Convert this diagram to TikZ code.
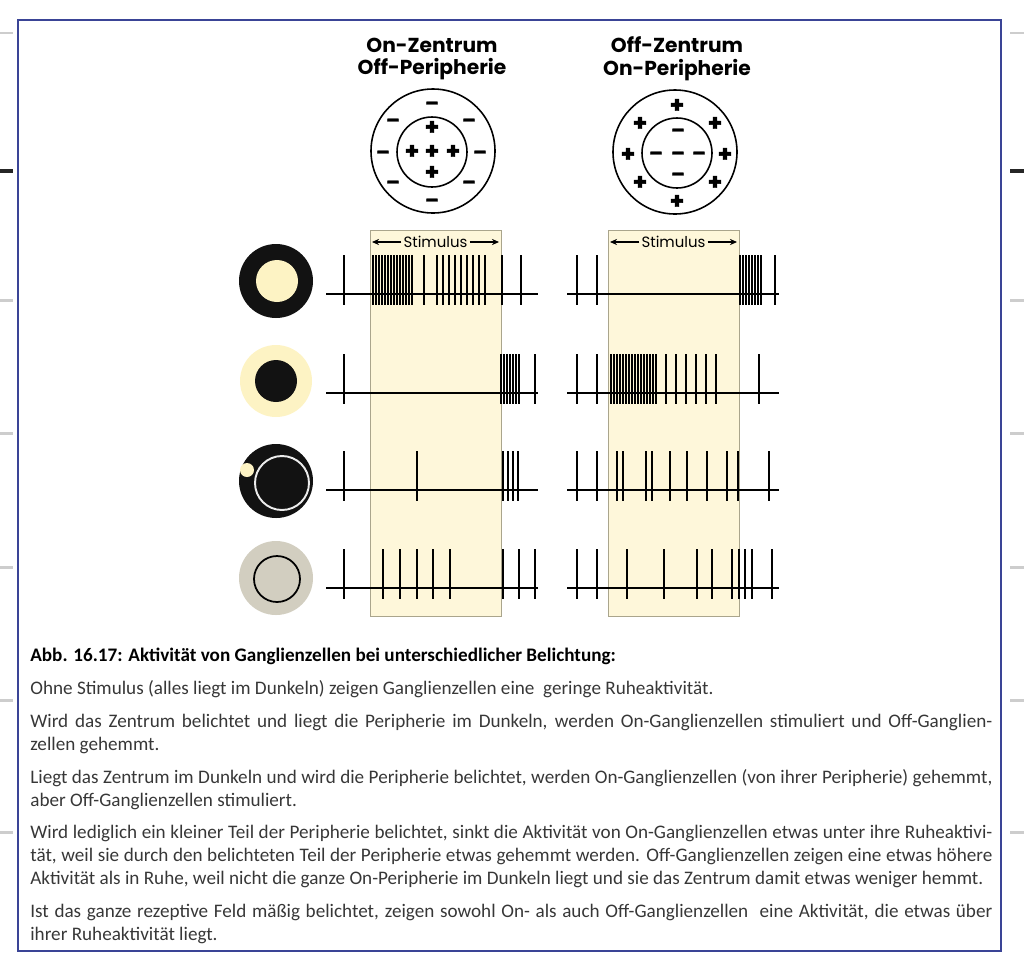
\documentclass[tikz,border=0pt]{standalone}
\usepackage{fontspec}
\setmainfont{Carlito}
\newfontfamily\headfont{Poppins}
\newfontfamily\signfont{Poppins}[FakeBold=2]
\usepackage{tikz}
\usetikzlibrary{arrows.meta,positioning}
\definecolor{stimCream}{RGB}{254,247,218}
\definecolor{lightCream}{RGB}{253,243,196}
\definecolor{boxEdge}{RGB}{170,165,140}
\definecolor{dimGray}{RGB}{210,206,192}
\definecolor{frameBlue}{RGB}{58,68,150}
\definecolor{markGray}{RGB}{205,205,205}
\definecolor{textGray}{RGB}{55,55,55}

\begin{document}
\begin{tikzpicture}[
  x=0.02cm, y=-0.02cm,
  %% Title over each receptive field
  head/.style={
    font=\headfont\bfseries\fontsize{11.5}{13}\selectfont,
    align=center,
    inner sep=0
  },
  %% + / - inside the fields
  sign/.style={
    font=\signfont\bfseries\fontsize{13}{13}\selectfont,
    inner sep=0
  },
  minussign/.style={
    sign,
    font=\signfont\bfseries\fontsize{11}{11}\selectfont,
    yshift=-1.6pt
  },
  field/.style={draw, line width=0.9pt},
  stimbox/.style={draw=boxEdge, fill=stimCream, line width=0.5pt},
  stimlabel/.style={
    font=\headfont\fontsize{8.5}{10}\selectfont,
    fill=stimCream,
    inner sep=1pt
  },
  stimarr/.style={-{Stealth[length=4pt,width=3.5pt]}, line width=0.9pt},
  axis/.style={line width=1.5pt},
  spike/.style={line width=1.1pt},
  pagemark/.style={line width=1.7pt, markGray},
  %% Caption text block
  para/.style={
    text width=962*0.02cm,
    align=justify,
    inner sep=0,
    anchor=north west,
    text=textGray,
    font=\fontsize{10.9}{13}\selectfont
  }
]
\useasboundingbox (0,0) rectangle (1024,961);

%% ---- Page frame and margin marks ----
\foreach \y in {33,300,433,567,700,832} {
  \draw[pagemark] (0,\y) -- (13,\y);
  \draw[pagemark] (1010,\y) -- (1024,\y);
}
\draw[line width=2.8pt, black!85] (0,171) -- (13,171);
\draw[line width=2.8pt, black!85] (1010,171) -- (1024,171);
\draw[frameBlue, line width=1.2pt] (18,20) rectangle (1001,951);

%% ---- Headings ----
\node[head] (onHead)  at (432,59) {On-Zentrum\\Off-Peripherie};
\node[head] (offHead) at (677,59) {Off-Zentrum\\On-Peripherie};

%% ---- Receptive fields ----
\draw[field] (433,151) circle[radius=62];
\draw[field] (432,152) circle[radius=35];
\draw[field] (675,152) circle[radius=62];
\draw[field] (677,153) circle[radius=35];

\foreach \p [count=\i] in {(432,128),(412,152),(432,152),(453,152),(432,173)}
  \node[sign] (onPlus\i) at \p {+};
\foreach \p [count=\i] in {(432,103),(432,200),(383,152),(480,152),
                           (393,120),(469,120),(393,182),(469,182)}
  \node[minussign] (onMinus\i) at \p {–};
\foreach \p [count=\i] in {(677,106),(677,202),(628,155),(725,155),
                           (640,124),(715,124),(640,183),(715,183)}
  \node[sign] (offPlus\i) at \p {+};
\foreach \p [count=\i] in {(678,130),(656,153),(678,153),(699,153),(678,174)}
  \node[minussign] (offMinus\i) at \p {–};

%% ---- Stimulus windows ----
\draw[stimbox] (370,230) rectangle (501,616);
\draw[stimbox] (608,230) rectangle (739,616);

\node[stimlabel] (stimL) at (435.5,242) {Stimulus};
\node[stimlabel] (stimR) at (673.5,242) {Stimulus};
\coordinate (stimLa) at (372,242);
\coordinate (stimLb) at (499,242);
\coordinate (stimRa) at (610,242);
\coordinate (stimRb) at (737,242);
\draw[stimarr] (stimL.west) -- (stimLa);
\draw[stimarr] (stimL.east) -- (stimLb);
\draw[stimarr] (stimR.west) -- (stimRa);
\draw[stimarr] (stimR.east) -- (stimRb);

%% ---- Light conditions ----
\fill[black!93] (276,281) circle[radius=37];
\fill[lightCream] (277,281) circle[radius=21];
\fill[lightCream] (276,381) circle[radius=36];
\fill[black!93] (276,381) circle[radius=21];
\fill[black!93] (276,481) circle[radius=37];
\draw[white!85!gray, line width=1.1pt] (282,483) circle[radius=27];
\fill[lightCream] (247,470) circle[radius=7];
\fill[dimGray] (276,578) circle[radius=37];
\draw[line width=1pt] (277,579) circle[radius=23];

%% ---- Spike trains: On-Zentrum ----
\foreach \base/\spikes in {
    294/{344,373,376,...,412,424,437,443,...,485,502,521},
    393/{344,501,504,...,519,535},
    490/{344,417,503,508,513,518},
    588/{344,383,400,417,433,450,503,519,535}} {
  \draw[axis] (326,\base) -- (538,\base);
  \foreach \x in \spikes
    \draw[spike] (\x,\base-39) -- (\x,\base+11);
}

%% ---- Spike trains: Off-Zentrum ----
\foreach \base/\spikes in {
    294/{577,597,740,743,...,761,775},
    393/{577,597,611,614,...,656,666,676,686,696,706,716,759},
    490/{577,597,617,623,646,652,670,687,707,727,738,769},
    588/{577,597,627,664,697,712,732,739,745,752,772}} {
  \draw[axis] (567,\base) -- (779,\base);
  \foreach \x in \spikes
    \draw[spike] (\x,\base-39) -- (\x,\base+11);
}

%% ---- Caption ----
\node[para] (caption) at (30,648) {%
  \hyphenpenalty=10000 \exhyphenpenalty=10000
  \setlength{\parskip}{5.7pt}%
  {\color{black}\bfseries Abb. 16.17: Aktivität von Ganglienzellen bei unterschiedlicher Belichtung:}\par
  Ohne Stimulus (alles liegt im Dunkeln) zeigen Ganglienzellen eine\ \ geringe Ruheaktivität.\par
  Wird das Zentrum belichtet und liegt die Peripherie im Dunkeln, werden On-Ganglienzellen stimuliert und Off-Ganglien-\linebreak
  zellen gehemmt.\par
  Liegt das Zentrum im Dunkeln und wird die Peripherie belichtet, werden On-Ganglienzellen (von ihrer Peripherie) gehemmt,\linebreak
  aber Off-Ganglienzellen stimuliert.\par
  Wird lediglich ein kleiner Teil der Peripherie belichtet, sinkt die Aktivität von On-Ganglienzellen etwas unter ihre Ruheaktivi-\linebreak
  tät, weil sie durch den belichteten Teil der Peripherie etwas gehemmt werden. Off-Ganglienzellen zeigen eine etwas höhere\linebreak
  Aktivität als in Ruhe, weil nicht die ganze On-Peripherie im Dunkeln liegt und sie das Zentrum damit etwas weniger hemmt.\par
  Ist das ganze rezeptive Feld mäßig belichtet, zeigen sowohl On- als auch Off-Ganglienzellen\ \ eine Aktivität, die etwas über\linebreak
  ihrer Ruheaktivität liegt.};

\end{tikzpicture}
\end{document}
